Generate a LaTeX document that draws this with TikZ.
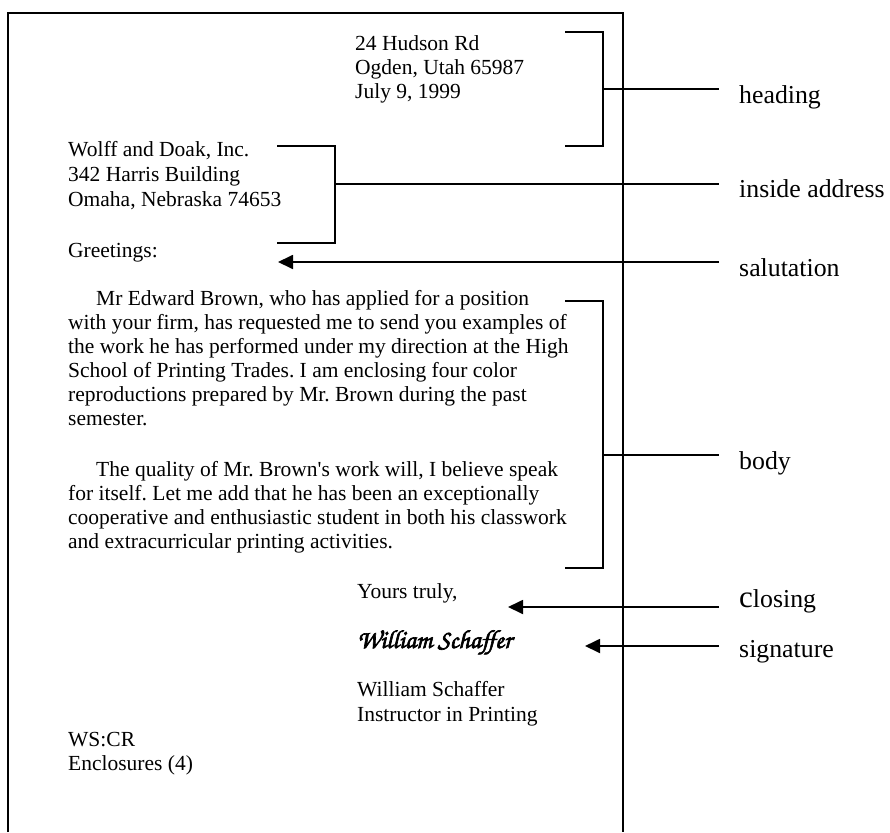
\documentclass[tikz,border=0pt]{standalone}
\usepackage{fontspec}
\setmainfont{Liberation Serif}
\newfontfamily\signfont[FakeBold=2.5]{texgyrechorus-mediumitalic.otf}
\usetikzlibrary{arrows.meta, positioning}
\frenchspacing

\begin{document}
\begin{tikzpicture}[
    x=1pt, y=-1pt,
    letter/.style={anchor=base west, inner sep=0pt, font=\fontsize{21.5pt}{24pt}\selectfont},
    part/.style={anchor=base west, inner sep=0pt, font=\fontsize{25.8pt}{28pt}\selectfont},
    brace/.style={line width=1.8pt},
    pointer/.style={-{Triangle[length=15pt, width=14pt]}, line width=1.8pt}
]
\useasboundingbox (0,0) rectangle (890,832);

% Page
\draw[line width=1.8pt] (8,832) -- (8,13) -- (623,13) -- (623,832);

% Heading
\foreach \txt [count=\i] in {24 Hudson Rd, {Ogden, Utah 65987}, {July 9, 1999}}
    \node[letter] (head\i) at (355, 27+24*\i) {\txt};

% Inside address
\foreach \txt [count=\i] in {{Wolff and Doak, Inc.}, 342 Harris Building, {Omaha, Nebraska 74653}}
    \node[letter] (addr\i) at (68, 131+25*\i) {\txt};

% Salutation
\node[letter] (greet) at (68,257) {Greetings:};

% Body
\node[letter] (para1) at (96,305) {Mr Edward Brown, who has applied for a position};
\foreach \txt [count=\i] in {{with your firm, has requested me to send you examples of},
    the work he has performed under my direction at the High,
    School of Printing Trades. I am enclosing four color,
    reproductions prepared by Mr. Brown during the past,
    semester.}
    \node[letter] (para1-\i) at (68, 305+24*\i) {\txt};

\node[letter] (para2) at (96,476) {The quality of Mr. Brown\textquotesingle s work will, I believe speak};
\foreach \txt [count=\i] in {for itself. Let me add that he has been an exceptionally,
    cooperative and enthusiastic student in both his classwork,
    and extracurricular printing activities.}
    \node[letter] (para2-\i) at (68, 476+24*\i) {\txt};

% Closing and signature
\node[letter] (close) at (357,598) {Yours truly,};
\node[letter] (sign) at (357,648) {\signfont\fontsize{26pt}{26pt}\selectfont William Schaffer};
\node[letter] (name1) at (357,696) {William Schaffer};
\node[letter] (name2) at (357,721) {Instructor in Printing};

% Reference initials
\node[letter] (ref1) at (68,746) {WS:CR};
\node[letter] (ref2) at (68,770) {Enclosures (4)};

% Part labels
\node[part] (lheading) at (739,103) {heading};
\node[part] (laddress) at (739,197) {inside address};
\node[part] (lsalute) at (739,276) {salutation};
\node[part] (lbody) at (739,469) {body};
\node[part] (lclosing) at (739,607) {{\fontsize{31pt}{31pt}\selectfont c}losing};
\node[part] (lsign) at (739,657) {signature};

% Brackets
\coordinate (headtop) at (565,32);
\coordinate (headbot) at (565,146);
\coordinate (headend) at (719,89);
\draw[brace] (headtop) -| (603,89) |- (headbot);
\draw[brace] (603,89) -- (headend);

\coordinate (addrtop) at (277,146);
\coordinate (addrbot) at (277,243);
\coordinate (addrend) at (719,184);
\draw[brace] (addrtop) -| (335,184) |- (addrbot);
\draw[brace] (335,184) -- (addrend);

\coordinate (bodytop) at (565,301);
\coordinate (bodybot) at (565,568);
\coordinate (bodyend) at (719,455);
\draw[brace] (bodytop) -| (603,455) |- (bodybot);
\draw[brace] (603,455) -- (bodyend);

% Pointers
\coordinate (salstart) at (719,262);
\coordinate (saltip) at (278,262);
\coordinate (closestart) at (719,607);
\coordinate (closetip) at (508,607);
\coordinate (signstart) at (719,646);
\coordinate (signtip) at (585,646);
\draw[pointer] (salstart) -- (saltip);
\draw[pointer] (closestart) -- (closetip);
\draw[pointer] (signstart) -- (signtip);

\end{tikzpicture}
\end{document}
